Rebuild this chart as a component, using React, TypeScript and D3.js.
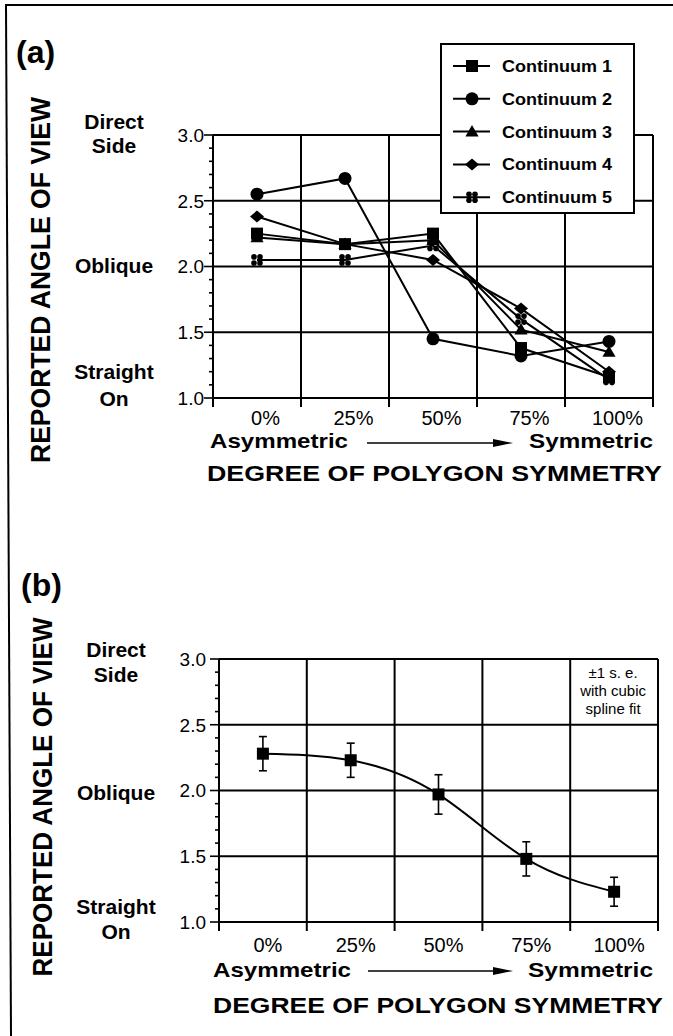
import React from 'react';
import * as d3 from 'd3';

// ---------- DATA ----------
const categories = ['0%', '25%', '50%', '75%', '100%'];
const seriesNames = ['Continuum 1', 'Continuum 2', 'Continuum 3', 'Continuum 4', 'Continuum 5'];
const seriesMarkers = ['square', 'circle', 'triangle', 'diamond', 'asterisk'];
const continuum1 = [2.25, 2.17, 2.25, 1.38, 1.16];
const continuum2 = [2.55, 2.67, 1.45, 1.32, 1.43];
const continuum3 = [2.22, 2.17, 2.2, 1.52, 1.35];
const continuum4 = [2.38, 2.17, 2.05, 1.68, 1.2];
const continuum5 = [2.05, 2.05, 2.16, 1.6, 1.14];
const allSeries = [continuum1, continuum2, continuum3, continuum4, continuum5];

const meanAngle = [2.28, 2.23, 1.97, 1.48, 1.23];
const stdError = [0.13, 0.13, 0.15, 0.13, 0.11];

const yDomain = [1.0, 3.0];
const yMajorTicks = [1.0, 1.5, 2.0, 2.5, 3.0];
const yGridValues = [1.5, 2.0, 2.5];
const levelValues = [3.0, 2.0, 1.0];
const levelNames = [['Direct', 'Side'], ['Oblique'], ['Straight', 'On']];
const noteLines = ['\u00B11 s. e.', 'with cubic', 'spline fit'];

const FONT = "'Liberation Sans', Arial, Helvetica, sans-serif";

function Marker({ type, x, y }: { type: string; x: number; y: number }) {
  if (type === 'square') return <rect x={x - 6} y={y - 6} width={12} height={12} fill="#000" />;
  if (type === 'circle') return <circle cx={x} cy={y} r={6.5} fill="#000" />;
  if (type === 'triangle') {
    const p = d3.symbol().type(d3.symbolTriangle).size(75)();
    return <path d={p || ''} transform={`translate(${x},${y + 1})`} fill="#000" />;
  }
  if (type === 'diamond')
    return <polygon points={`${x},${y - 6} ${x + 7},${y} ${x},${y + 6} ${x - 7},${y}`} fill="#000" />;
  // asterisk-like four-lobed mark
  return (
    <g fill="#000">
      <circle cx={x - 3} cy={y - 3} r={2.8} />
      <circle cx={x + 3} cy={y - 3} r={2.8} />
      <circle cx={x - 3} cy={y + 3} r={2.8} />
      <circle cx={x + 3} cy={y + 3} r={2.8} />
    </g>
  );
}

type Layout = {
  x0: number; x1: number; yTop: number; yBot: number;
  tag: string; tagX: number; tagY: number;
  titleX: number; titleY: number; titleLen: number;
  tickRight: number;
  levelX: number; levelOffsets: number[][];
  xLabelY: number; xLabelOffset: number;
  asymY: number; asymX0: number; asymX1: number; symX0: number; symX1: number;
  arrowX0: number; arrowX1: number; arrowY: number;
  degY: number; degX0: number; degX1: number;
};

function Frame({ L, children }: { L: Layout; children?: React.ReactNode }) {
  const x = d3.scaleBand<string>().domain(categories).range([L.x0, L.x1]).paddingInner(0).paddingOuter(0);
  const y = d3.scaleLinear().domain(yDomain).range([L.yBot, L.yTop]);
  const edges = [L.x0, ...categories.map((c) => (x(c) as number) + x.bandwidth())];
  const minor = d3.range(10, 31).map((v) => v / 10);
  return (
    <g>
      {/* grid */}
      {yGridValues.map((v) => (
        <line key={'g' + v} x1={L.x0} x2={L.x1} y1={y(v)} y2={y(v)} stroke="#000" strokeWidth={2} />
      ))}
      {edges.slice(1, -1).map((e, i) => (
        <line key={'v' + i} x1={e} x2={e} y1={L.yTop} y2={L.yBot} stroke="#000" strokeWidth={2} />
      ))}
      {/* frame */}
      <line x1={L.x0} x2={L.x1} y1={L.yTop} y2={L.yTop} stroke="#000" strokeWidth={2} />
      <line x1={L.x1} x2={L.x1} y1={L.yTop} y2={L.yBot + 9} stroke="#000" strokeWidth={2} />
      <line x1={L.x0} x2={L.x1} y1={L.yBot} y2={L.yBot} stroke="#000" strokeWidth={2} />
      <line x1={L.x0} x2={L.x0} y1={L.yTop} y2={L.yBot + 9} stroke="#000" strokeWidth={2} />
      {/* x ticks */}
      {edges.map((e, i) => (
        <line key={'xt' + i} x1={e} x2={e} y1={L.yBot} y2={L.yBot + 9} stroke="#000" strokeWidth={2} />
      ))}
      {/* y ticks */}
      {minor.map((v) => {
        const major = Math.abs(v * 2 - Math.round(v * 2)) < 1e-6;
        return (
          <line key={'yt' + v} x1={L.x0 - (major ? 9 : 4)} x2={L.x0} y1={y(v)} y2={y(v)} stroke="#000" strokeWidth={1.6} />
        );
      })}
      {yMajorTicks.map((v) => (
        <text key={'yl' + v} x={L.tickRight} y={y(v)} dy="0.36em" textAnchor="end" fontSize={19} fontFamily={FONT}>
          {v.toFixed(1)}
        </text>
      ))}
      {/* level labels */}
      {levelValues.map((v, i) =>
        levelNames[i].map((n, j) => (
          <text key={'lv' + i + j} x={L.levelX} y={y(v) + L.levelOffsets[i][j]} textAnchor="middle" fontSize={21} fontWeight="bold" fontFamily={FONT}>
            {n}
          </text>
        ))
      )}
      {/* x labels */}
      {categories.map((c) => (
        <text key={'xl' + c} x={(x(c) as number) + x.bandwidth() / 2 + L.xLabelOffset} y={L.xLabelY} textAnchor="middle" fontSize={20} fontFamily={FONT}>
          {c}
        </text>
      ))}
      <text x={L.asymX0} y={L.asymY} fontSize={21} fontWeight="bold" fontFamily={FONT} textLength={L.asymX1 - L.asymX0} lengthAdjust="spacingAndGlyphs">
        Asymmetric
      </text>
      <text x={L.symX0} y={L.asymY} fontSize={21} fontWeight="bold" fontFamily={FONT} textLength={L.symX1 - L.symX0} lengthAdjust="spacingAndGlyphs">
        Symmetric
      </text>
      <line x1={L.arrowX0} x2={L.arrowX1 - 16} y1={L.arrowY} y2={L.arrowY} stroke="#000" strokeWidth={1.6} />
      <polygon points={`${L.arrowX1},${L.arrowY} ${L.arrowX1 - 20},${L.arrowY - 4} ${L.arrowX1 - 20},${L.arrowY + 4}`} fill="#000" />
      <text x={L.degX0} y={L.degY} fontSize={22} fontWeight="bold" fontFamily={FONT} textLength={L.degX1 - L.degX0} lengthAdjust="spacingAndGlyphs">
        DEGREE OF POLYGON SYMMETRY
      </text>
      {/* titles */}
      <text x={L.tagX} y={L.tagY} fontSize={32} fontWeight="bold" fontFamily={FONT}>
        {L.tag}
      </text>
      <text transform={`translate(${L.titleX},${L.titleY}) rotate(-90)`} textAnchor="middle" fontSize={27} fontWeight="bold" fontFamily={FONT} textLength={L.titleLen} lengthAdjust="spacingAndGlyphs">
        REPORTED ANGLE OF VIEW
      </text>
      {children}
    </g>
  );
}

const layoutA: Layout = {
  x0: 213, x1: 653, yTop: 135, yBot: 398,
  tag: '(a)', tagX: 16, tagY: 63,
  titleX: 50, titleY: 280, titleLen: 366,
  tickRight: 204,
  levelX: 114, levelOffsets: [[-6, 18], [6], [-19, 8]],
  xLabelY: 425, xLabelOffset: 8.5,
  asymY: 448, asymX0: 210, asymX1: 348, symX0: 529, symX1: 653,
  arrowX0: 367, arrowX1: 513, arrowY: 443,
  degY: 481, degX0: 207, degX1: 662,
};

const layoutB: Layout = {
  x0: 219, x1: 658, yTop: 659, yBot: 922,
  tag: '(b)', tagX: 21, tagY: 596,
  titleX: 52, titleY: 797, titleLen: 359,
  tickRight: 206,
  levelX: 116, levelOffsets: [[-2, 23], [9], [-8, 17]],
  xLabelY: 952, xLabelOffset: 5,
  asymY: 977, asymX0: 213, asymX1: 351, symX0: 528, symX1: 653,
  arrowX0: 368, arrowX1: 513, arrowY: 971,
  degY: 1013, degX0: 213, degX1: 663,
};

function PanelA() {
  const L = layoutA;
  const x = d3.scaleBand<string>().domain(categories).range([L.x0, L.x1]);
  const y = d3.scaleLinear().domain(yDomain).range([L.yBot, L.yTop]);
  const cx = (c: string) => (x(c) as number) + x.bandwidth() / 2;
  const line = d3.line<number>().x((_, i) => cx(categories[i])).y((v) => y(v));
  const legX0 = 441, legX1 = 634, legY0 = 44, legY1 = 213;
  return (
    <Frame L={L}>
      {allSeries.map((s, k) => (
        <path key={'s' + k} d={line(s) || ''} fill="none" stroke="#000" strokeWidth={2} />
      ))}
      {allSeries.map((s, k) =>
        s.map((v, i) => <Marker key={'m' + k + i} type={seriesMarkers[k]} x={cx(categories[i])} y={y(v)} />)
      )}
      <rect x={legX0} y={legY0} width={legX1 - legX0} height={legY1 - legY0} fill="#fff" stroke="#000" strokeWidth={2} />
      {seriesNames.map((n, k) => {
        const ry = 66 + k * 32.8;
        return (
          <g key={'lg' + k}>
            <line x1={453} x2={490} y1={ry} y2={ry} stroke="#000" strokeWidth={2} />
            <Marker type={seriesMarkers[k]} x={472} y={ry} />
            <text x={502} y={ry + 6} fontSize={16} fontWeight="bold" fontFamily={FONT} textLength={110} lengthAdjust="spacingAndGlyphs">
              {n}
            </text>
          </g>
        );
      })}
    </Frame>
  );
}

function PanelB() {
  const L = layoutB;
  const x = d3.scaleBand<string>().domain(categories).range([L.x0, L.x1]);
  const y = d3.scaleLinear().domain(yDomain).range([L.yBot, L.yTop]);
  const cx = (c: string) => (x(c) as number) + x.bandwidth() / 2;
  const spline = d3.line<number>().x((_, i) => cx(categories[i])).y((v) => y(v)).curve(d3.curveNatural);
  const lastBand = (x(categories[categories.length - 1]) as number);
  const noteX = lastBand + x.bandwidth() / 2 - 1;
  return (
    <Frame L={L}>
      <path d={spline(meanAngle) || ''} fill="none" stroke="#000" strokeWidth={2} />
      {meanAngle.map((m, i) => {
        const px = cx(categories[i]);
        const hi = y(m + stdError[i]);
        const lo = y(m - stdError[i]);
        return (
          <g key={'e' + i}>
            <line x1={px} x2={px} y1={hi} y2={lo} stroke="#000" strokeWidth={1.6} />
            <line x1={px - 4} x2={px + 4} y1={hi} y2={hi} stroke="#000" strokeWidth={1.6} />
            <line x1={px - 4} x2={px + 4} y1={lo} y2={lo} stroke="#000" strokeWidth={1.6} />
            <rect x={px - 6} y={y(m) - 6} width={12} height={12} fill="#000" />
          </g>
        );
      })}
      {noteLines.map((t, i) => (
        <text key={'n' + i} x={noteX} y={678 + i * 18} textAnchor="middle" fontSize={15} fontFamily={FONT}>
          {t}
        </text>
      ))}
    </Frame>
  );
}

export default function App() {
  return (
    <svg width={673} height={1036} viewBox="0 0 673 1036" style={{ position: 'absolute', left: 0, top: 0, background: '#fff' }}>
      <rect x={0} y={0} width={673} height={1036} fill="#fff" />
      <line x1={5} x2={673} y1={5} y2={5} stroke="#000" strokeWidth={2} />
      <line x1={6} x2={11} y1={5} y2={1036} stroke="#000" strokeWidth={2} />
      <PanelA />
      <PanelB />
    </svg>
  );
}
